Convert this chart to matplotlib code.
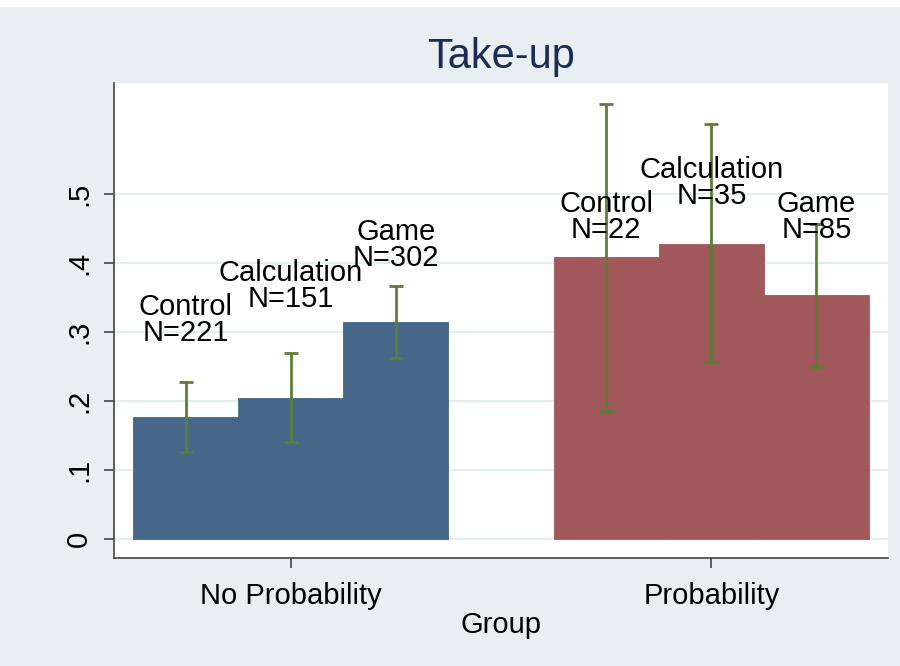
import numpy as np
import matplotlib.pyplot as plt
from matplotlib.patches import Rectangle

plt.rcParams['font.family'] = ['Liberation Sans', 'DejaVu Sans']

# Data
groups = ['No Probability', 'Probability']
treatments = ['Control', 'Calculation', 'Game']
takeup_noprob = [0.177, 0.204, 0.314]
takeup_prob = [0.409, 0.428, 0.353]
ci_low_noprob = [0.126, 0.140, 0.263]
ci_high_noprob = [0.227, 0.270, 0.367]
ci_low_prob = [0.186, 0.256, 0.250]
ci_high_prob = [0.631, 0.601, 0.456]
n_noprob = [221, 151, 302]
n_prob = [22, 35, 85]
label_y_noprob = [0.317, 0.367, 0.426]
label_y_prob = [0.467, 0.516, 0.467]
yticks = [0, 0.1, 0.2, 0.3, 0.4, 0.5]
ytick_labels = ['0', '.1', '.2', '.3', '.4', '.5']

bg = '#e8eef2'
bar_colors = ['#46678a', '#a0585b']
err_color = '#5b7f35'

fig = plt.figure(figsize=(9, 6.66), dpi=100, facecolor='white')
fig.patches.append(Rectangle((0, 0), 1, 1 - 7 / 666, transform=fig.transFigure,
                             facecolor=bg, edgecolor='none', zorder=-10))
ax = fig.add_axes([114 / 900, 1 - 558 / 666, 774 / 900, 475 / 666])
ax.set_facecolor('white')

width = 0.25
offsets = np.array([-width, 0, width])
series = [
    (takeup_noprob, ci_low_noprob, ci_high_noprob, n_noprob, label_y_noprob),
    (takeup_prob, ci_low_prob, ci_high_prob, n_prob, label_y_prob),
]

for g, (vals, lo, hi, ns, ly) in enumerate(series):
    xs = g + offsets
    ax.bar(xs, vals, width=width, color=bar_colors[g],
           edgecolor=bar_colors[g], linewidth=0.6, zorder=2)
    vals = np.array(vals)
    yerr = [vals - np.array(lo), np.array(hi) - vals]
    ax.errorbar(xs, vals, yerr=yerr, fmt='none', ecolor=err_color,
                elinewidth=2, capsize=5, capthick=2, zorder=3)
    for x, name, n, y in zip(xs, treatments, ns, ly):
        ax.text(x, y, f'{name}\nN={n}', ha='center', va='center',
                fontsize=21, linespacing=0.92, color='black', zorder=4)

ax.set_xlim(-0.42, 1.42)
ax.set_ylim(-0.0275, 0.661)
ax.set_yticks(yticks)
ax.set_yticklabels(ytick_labels, rotation=90, va='center', fontsize=21)
ax.set_xticks([0, 1])
ax.set_xticklabels(groups, fontsize=21)
ax.tick_params(axis='both', length=7, width=1.2, color='#444444')
ax.tick_params(axis='x', pad=10)
ax.tick_params(axis='y', pad=8)
ax.set_xlabel('Group', fontsize=21, labelpad=1)

ax.yaxis.grid(True, color='#e4edf0', linewidth=1.5, zorder=0)
ax.set_axisbelow(True)
for side in ['top', 'right']:
    ax.spines[side].set_visible(False)
for side in ['left', 'bottom']:
    ax.spines[side].set_color('#444444')
    ax.spines[side].set_linewidth(1.2)

fig.text(501 / 900, 1 - 57 / 666, 'Take-up', ha='center', va='center',
         fontsize=30, color='#1c2c55')

fig.savefig('out.png', dpi=100, facecolor=fig.get_facecolor())
